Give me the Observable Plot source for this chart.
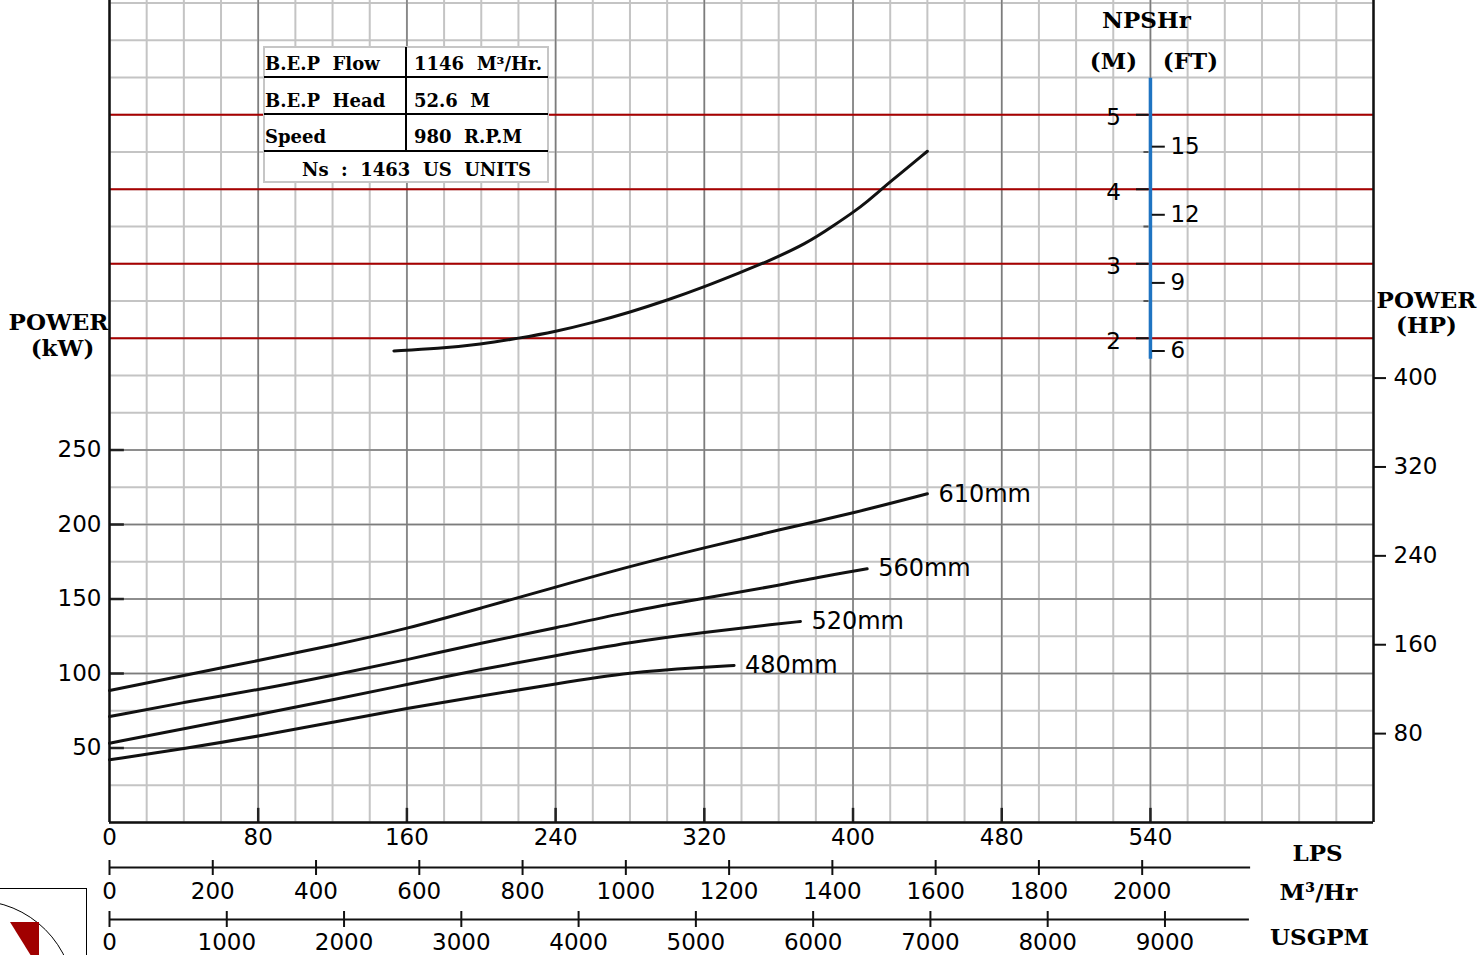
<!DOCTYPE html>
<html>
<head>
<meta charset="utf-8">
<script src="https://cdn.jsdelivr.net/npm/d3@7"></script>
<script src="https://cdn.jsdelivr.net/npm/@observablehq/plot@0.6"></script>
<style>
  html, body { margin: 0; padding: 0; background: #fff; }
  #wrap { position: relative; width: 1479px; height: 955px; overflow: hidden; background: #fff; }
  #chart svg { display: block; }
  .tb { position: absolute; font-family: "DejaVu Serif", serif; font-weight: bold; font-size: 18px; line-height: 1; white-space: pre; color: #000; }
  .ln { position: absolute; background: #000; }
  #tbl { position: absolute; left: 263px; top: 46px; width: 286px; height: 137px; box-sizing: border-box; border: 2px solid #c6c6c6; background: #fff; }
  #logo { position: absolute; left: -2px; top: 888px; width: 89px; height: 80px; box-sizing: border-box; border-top: 1.5px solid #000; border-right: 1.5px solid #000; overflow: hidden; }
  #logo .arc { position: absolute; left: -123px; top: 11px; width: 200px; height: 200px; box-sizing: border-box; border: 1.5px solid #000; border-radius: 50%; }
  #logo .tri { position: absolute; left: 0; top: 0; width: 89px; height: 80px; background: #a00000; clip-path: polygon(12px 33px, 41px 33px, 41px 70px, 35px 70px); }
</style>
</head>
<body>
<div id="wrap">
  <div id="chart"></div>
  <div id="tbl"></div>
  <div class="ln" style="left:264px;top:76px;width:284px;height:2px"></div>
  <div class="ln" style="left:264px;top:113px;width:284px;height:2px"></div>
  <div class="ln" style="left:264px;top:150px;width:284px;height:2px"></div>
  <div class="ln" style="left:405px;top:47px;width:2px;height:104px"></div>
  <div id="tbltext"></div>
  <div id="logo"><div class="arc"></div><div class="tri"></div></div>
</div>
<script>
// ---------------- data ----------------
// Flow (LPS) and shaft power (kW) for each impeller diameter
const diameters = ["610mm", "560mm", "520mm", "480mm"];
const q610 = [0, 40, 80, 120, 160, 200, 240, 280, 320, 360, 400, 440];
const p610 = [88.6, 98.7, 108.7, 118.8, 130.0, 144.0, 158.0, 172.0, 184.4, 196.4, 207.6, 220.6];
const q560 = [0, 40, 80, 120, 160, 200, 240, 280, 320, 360, 380, 407.6];
const p560 = [71.1, 80.7, 89.1, 98.7, 109.2, 120.5, 130.5, 141.8, 150.5, 159.1, 164.4, 170.3];
const q520 = [0, 40, 80, 120, 160, 200, 240, 280, 320, 360, 371.7];
const p520 = [53.2, 62.9, 72.5, 82.3, 92.6, 102.8, 112.0, 121.0, 127.7, 133.4, 134.9];
const q480 = [0, 40, 80, 120, 160, 200, 240, 280, 320, 336];
const p480 = [42.1, 49.5, 57.9, 67.3, 76.7, 85.0, 93.0, 100.9, 104.2, 105.4];

// NPSHr curve: flow (LPS) and NPSHr (m)
const qNpsh = [153, 176.5, 200, 220, 240, 260, 280, 300, 320, 340, 353, 375, 390, 400, 407, 419, 440];
const mNpsh = [1.83, 1.86, 1.92, 2.0, 2.09, 2.21, 2.35, 2.51, 2.69, 2.89, 3.02, 3.27, 3.52, 3.69, 3.82, 4.08, 4.51];

// axes / tick values
const lpsTicks = [0, 80, 160, 240, 320, 400, 480, 560];
const lpsLabels = ["0", "80", "160", "240", "320", "400", "480", "540"];
const m3hTicks = [0, 200, 400, 600, 800, 1000, 1200, 1400, 1600, 1800, 2000];
const gpmTicks = [0, 1000, 2000, 3000, 4000, 5000, 6000, 7000, 8000, 9000];
const kwTicks = [50, 100, 150, 200, 250];
const hpTicks = [80, 160, 240, 320, 400];
const npshMTicks = [2, 3, 4, 5];
const npshMMinor = [2.5, 3.5, 4.5];
const npshFtTicks = [6, 9, 12, 15];
const npshBarRange = [1.72, 5.49];   // extent of the NPSHr scale bar (m)
const m3hAxisEnd = 2210;             // m3/h
const gpmAxisEnd = 9720;             // USGPM

// table text
const tableLeft = ["B.E.P  Flow", "B.E.P  Head", "Speed"];
const tableRight = ["1146  M\u00B3/Hr.", "52.6  M", "980  R.P.M"];
const tableFoot = ["Ns  :  1463  US  UNITS"];

// ---------------- unit conversions ----------------
const HP_KW = 0.7457;                 // kW per HP
const LPS_PER_M3H = 1 / 3.6;
const LPS_PER_GPM = 1 / 15.8503;
const FT_M = 0.3048;
const npshToKw = m => 225 + 50 * m;   // NPSHr (m) drawn against the power scale
const npshAt = 560;                   // LPS position of the NPSHr scale bar

// ---------------- tables ----------------
const qs = [q610, q560, q520, q480];
const ps = [p610, p560, p520, p480];
const powerRows = diameters.flatMap((d, k) => qs[k].map((q, i) => ({d, q, p: ps[k][i]})));
const powerEnds = diameters.map((d, k) => ({d, q: qs[k][qs[k].length - 1], p: ps[k][ps[k].length - 1]}));
const npshRows = qNpsh.map((q, i) => ({q, m: mNpsh[i]}));

// ---------------- chart ----------------
const grid = "#c4c4c4", major = "#7c7c7c", red = "#a80000", ink = "#111";
const sans = "DejaVu Sans", serif = "DejaVu Serif";
const TF = 23;
const title = {lineAnchor: "middle", textAnchor: "middle", fontFamily: serif, fontWeight: "bold", fontSize: 23, text: d => d};

const chart = Plot.plot({
  width: 1479,
  height: 955,
  marginLeft: 109,
  marginRight: 106,
  marginTop: 0,
  marginBottom: 133,
  x: {domain: [0, 680], axis: null},
  y: {domain: [0, 551.7], axis: null},
  style: {fontFamily: sans, fontSize: "23px", color: "#000", background: "#fff", overflow: "visible"},
  marks: [
    // grid
    Plot.ruleX(d3.range(0, 681, 20), {stroke: grid, strokeWidth: 2}),
    Plot.ruleY(d3.range(0, 551, 25), {stroke: grid, strokeWidth: 2}),
    Plot.ruleX(lpsTicks.slice(1), {stroke: major, strokeWidth: 1.5}),
    Plot.ruleY(kwTicks, {stroke: major, strokeWidth: 1.5}),
    Plot.ruleY(npshMTicks, {y: npshToKw, stroke: red, strokeWidth: 2}),
    // inward ticks
    Plot.ruleY(kwTicks, {x1: 0, x2: 8, stroke: "#222", strokeWidth: 2.5}),
    Plot.ruleX(lpsTicks.slice(1), {y1: 0, y2: 9.5, stroke: "#222", strokeWidth: 2.5}),
    // frame
    Plot.ruleX([0, 680], {stroke: ink, strokeWidth: 2.5}),
    Plot.ruleY([0], {stroke: ink, strokeWidth: 2.5}),

    // power curves
    Plot.line(powerRows, {x: "q", y: "p", z: "d", curve: "basis", stroke: ink, strokeWidth: 3}),
    Plot.text(powerEnds, {x: "q", y: "p", text: "d", textAnchor: "start", dx: 11, fontSize: 24, fontFamily: sans}),

    // NPSHr curve
    Plot.line(npshRows, {x: "q", y: d => npshToKw(d.m), curve: "basis", stroke: ink, strokeWidth: 3}),

    // NPSHr scale bar
    Plot.ruleX([npshAt], {y1: npshToKw(npshBarRange[0]), y2: npshToKw(npshBarRange[1]), stroke: "#1f74c2", strokeWidth: 3.5}),
    Plot.ruleY(npshMTicks, {y: npshToKw, x1: npshAt - 7.5, x2: npshAt - 0.8, stroke: ink, strokeWidth: 2}),
    Plot.ruleY(npshMMinor, {y: npshToKw, x1: npshAt - 3.5, x2: npshAt - 0.8, stroke: "#555", strokeWidth: 2}),
    Plot.ruleY(npshFtTicks, {y: d => npshToKw(d * FT_M), x1: npshAt + 1, x2: npshAt + 8, stroke: ink, strokeWidth: 2}),
    Plot.text(npshMTicks, {x: npshAt, y: npshToKw, dx: -37, dy: 3, text: d => String(d), textAnchor: "middle", fontSize: TF}),
    Plot.text(npshFtTicks, {x: npshAt, y: d => npshToKw(d * FT_M), dx: 20, text: d => String(d), textAnchor: "start", fontSize: TF}),
    Plot.text(["NPSHr"], {...title, x: npshAt, frameAnchor: "top", dx: -4, dy: 20}),
    Plot.text(["(M)"], {...title, x: npshAt, frameAnchor: "top", dx: -37, dy: 61}),
    Plot.text(["(FT)"], {...title, x: npshAt, frameAnchor: "top", dx: 40, dy: 61}),

    // left kW axis
    Plot.text(kwTicks, {y: d => d, frameAnchor: "left", dx: -8, textAnchor: "end", text: d => String(d), fontSize: TF}),
    Plot.text(["POWER"], {...title, frameAnchor: "top-left", dx: -51, dy: 322}),
    Plot.text(["(kW)"], {...title, frameAnchor: "top-left", dx: -47, dy: 348}),

    // right HP axis
    Plot.ruleY(hpTicks, {y: d => d * HP_KW, x1: 680, x2: 687, stroke: ink, strokeWidth: 2}),
    Plot.text(hpTicks, {y: d => d * HP_KW, frameAnchor: "right", dx: 20, textAnchor: "start", text: d => String(d), fontSize: TF}),
    Plot.text(["POWER"], {...title, frameAnchor: "top-right", dx: 53, dy: 300}),
    Plot.text(["(HP)"], {...title, frameAnchor: "top-right", dx: 53, dy: 325}),

    // bottom LPS axis
    Plot.text(lpsTicks, {x: d => d, frameAnchor: "bottom", lineAnchor: "middle", dy: 15, text: (d, i) => lpsLabels[i], fontSize: TF}),

    // m3/h axis
    Plot.ruleY([0], {x1: 0, x2: m3hAxisEnd * LPS_PER_M3H, dy: 45, stroke: ink, strokeWidth: 2}),
    Plot.ruleX(m3hTicks, {x: d => d * LPS_PER_M3H, insetTop: 860, insetBottom: -53, stroke: ink, strokeWidth: 2}),
    Plot.text(m3hTicks, {x: d => d * LPS_PER_M3H, frameAnchor: "bottom", lineAnchor: "middle", dy: 69, text: d => String(d), fontSize: TF}),

    // USGPM axis
    Plot.ruleY([0], {x1: 0, x2: gpmAxisEnd * LPS_PER_GPM, dy: 97, stroke: ink, strokeWidth: 2}),
    Plot.ruleX(gpmTicks, {x: d => d * LPS_PER_GPM, insetTop: 911, insetBottom: -105, stroke: ink, strokeWidth: 2}),
    Plot.text(gpmTicks, {x: d => d * LPS_PER_GPM, frameAnchor: "bottom", lineAnchor: "middle", dy: 120, text: d => String(d), fontSize: TF}),

    // unit titles
    Plot.text(["LPS"], {...title, frameAnchor: "bottom-right", dx: -56, dy: 31}),
    Plot.text(["M\u00B3/Hr"], {...title, frameAnchor: "bottom-right", dx: -55, dy: 70}),
    Plot.text(["USGPM"], {...title, frameAnchor: "bottom-right", dx: -54, dy: 115})
  ]
});
document.getElementById("chart").appendChild(chart);

// ---------------- info table overlay ----------------
const tt = document.getElementById("tbltext");
const place = (txt, left, baseline) => {
  const el = document.createElement("div");
  el.className = "tb";
  el.textContent = txt;
  el.style.left = left + "px";
  el.style.top = (baseline - 15.2) + "px";
  tt.appendChild(el);
};
const rowBase = [70.5, 107.5, 143.5];
tableLeft.forEach((t, i) => place(t, 265, rowBase[i]));
tableRight.forEach((t, i) => place(t, 414, rowBase[i]));
place(tableFoot[0], 302, 176);
</script>
</body>
</html>
